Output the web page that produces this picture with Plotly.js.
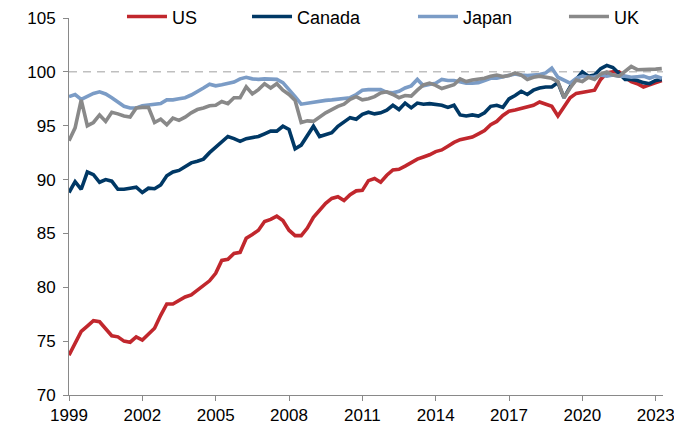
<!DOCTYPE html>
<html>
<head>
<meta charset="utf-8">
<script src="https://cdn.plot.ly/plotly-3.0.1.min.js"></script>
<style>
html,body{margin:0;padding:0;background:#fff;}
#chart{width:674px;height:426px;}
</style>
</head>
<body>
<div id="chart"></div>
<script>
// Quarterly observations, 1999 Q1 to 2023 Q2
const startYear = 1999;
const seriesNames = ["US", "Canada", "Japan", "UK"];

const us = [73.7,74.8,75.9,76.4,76.9,76.8,76.1,75.5,75.4,75.0,74.9,75.4,75.1,75.7,76.2,77.4,
  78.45,78.45,78.8,79.1,79.3,79.7,80.1,80.6,81.3,82.5,82.6,83.15,83.25,84.55,84.9,85.3,
  86.1,86.3,86.6,86.2,85.3,84.8,84.8,85.5,86.5,87.2,87.8,88.25,88.4,88.05,88.6,88.95,
  89.0,89.9,90.1,89.75,90.4,90.9,90.95,91.25,91.55,91.9,92.1,92.3,92.6,92.75,93.1,93.45,
  93.7,93.85,93.95,94.25,94.55,95.1,95.4,95.95,96.35,96.45,96.6,96.7,96.9,97.2,97.0,96.8,
  95.9,96.7,97.6,98.0,98.1,98.2,98.3,99.3,99.9,100.0,100.0,99.5,99.1,98.9,98.6,98.8,
  99.0,99.2];

const canada = [88.8,89.8,89.1,90.7,90.45,89.75,90.0,89.85,89.1,89.1,89.2,89.3,88.8,89.2,89.15,89.5,
  90.35,90.7,90.85,91.2,91.55,91.7,91.9,92.5,93.0,93.55,94.0,93.8,93.55,93.8,93.9,94.0,
  94.25,94.5,94.5,94.95,94.65,92.85,93.2,94.15,94.95,94.0,94.2,94.35,94.95,95.4,95.75,95.6,
  96.05,96.25,96.1,96.2,96.45,96.9,96.5,97.1,96.66,97.1,97.0,97.05,97.0,96.9,96.7,96.9,
  96.0,95.9,96.0,95.9,96.2,96.8,96.9,96.7,97.5,97.8,98.2,97.9,98.3,98.5,98.6,98.6,
  99.0,97.6,98.6,99.3,100.0,99.6,99.7,100.3,100.6,100.4,99.8,99.3,99.3,99.2,99.0,98.9,
  99.2,99.3];

const japan = [97.7,97.9,97.45,97.75,98.0,98.15,97.95,97.6,97.2,96.8,96.65,96.65,96.85,96.9,97.0,97.05,
  97.4,97.4,97.5,97.6,97.85,98.15,98.5,98.85,98.7,98.8,98.95,99.05,99.35,99.5,99.35,99.3,
  99.35,99.35,99.3,99.0,98.4,97.7,97.0,97.1,97.2,97.25,97.35,97.4,97.45,97.55,97.6,97.9,
  98.3,98.35,98.36,98.35,98.1,98.05,98.2,98.5,98.7,99.3,98.7,98.85,98.95,99.3,99.2,99.2,
  99.1,98.95,98.95,99.0,99.2,99.4,99.4,99.55,99.7,99.8,99.7,99.65,99.7,99.75,99.9,100.35,
  99.5,99.2,98.95,99.4,99.6,99.5,99.55,99.7,99.6,99.7,99.6,99.6,99.5,99.55,99.6,99.4,
  99.6,99.4];

const uk = [93.6,94.8,97.4,95.0,95.3,96.0,95.4,96.25,96.1,95.9,95.8,96.65,96.7,96.7,95.3,95.6,
  95.1,95.7,95.5,95.8,96.2,96.5,96.65,96.85,96.9,97.25,97.05,97.6,97.6,98.6,97.95,98.35,
  98.9,98.5,98.9,98.3,97.9,97.35,95.3,95.45,95.4,95.85,96.2,96.5,96.8,97.0,97.45,97.7,
  97.4,97.5,97.7,98.05,98.15,97.9,97.6,97.8,97.75,98.3,98.8,98.95,98.75,98.45,98.65,98.8,
  99.35,99.1,99.25,99.35,99.4,99.6,99.7,99.56,99.65,99.9,99.7,99.3,99.5,99.6,99.5,99.4,
  99.1,97.6,98.5,99.25,99.1,99.5,99.3,99.8,100.0,99.7,99.6,100.0,100.5,100.2,100.2,100.25,
  100.25,100.3];

const tickYears = [1999, 2002, 2005, 2008, 2011, 2014, 2017, 2020, 2023];
const tickLabels = ["1999","2002","2005","2008","2011","2014","2017","2020","2023"];
const referenceLevel = 100;

// quarter positions on the time axis
const quarters = us.map((_, i) => startYear + i / 4);

const colors = ["#C1272D", "#003865", "#7B9CC6", "#898989"];
const values = [us, canada, japan, uk];
const legendIds = ["legend", "legend2", "legend3", "legend4"];
const legendX = [0.0892, 0.2997, 0.5791, 0.8333];

const traces = values.map((v, k) => ({
  x: quarters, y: v, name: seriesNames[k], type: "scatter", mode: "lines",
  line: {color: colors[k], width: 3.6},
  legend: legendIds[k], hoverinfo: "skip"
}));

const font = {family: "Liberation Sans, Arial, sans-serif", size: 17, color: "#000"};
const layout = {
  width: 674, height: 426,
  margin: {l: 69, r: 11, t: 18, b: 31, autoexpand: false},
  paper_bgcolor: "#fff", plot_bgcolor: "#fff",
  font: font,
  showlegend: true,
  xaxis: {
    range: [1999, 2023.3], tickvals: tickYears, ticktext: tickLabels,
    showgrid: false, zeroline: false, showline: true, linecolor: "#898989", linewidth: 1,
    ticks: "outside", ticklen: 5, tickcolor: "#898989", tickfont: font,
    ticklabeloverflow: "allow"
  },
  yaxis: {
    range: [70, 105], dtick: 5, tick0: 70,
    showgrid: false, zeroline: false, showline: true, linecolor: "#898989", linewidth: 1,
    ticks: "outside", ticklen: 5, tickcolor: "#898989", tickfont: font, ticklabelstandoff: 4,
    ticklabeloverflow: "allow"
  },
  shapes: [{
    type: "line", xref: "paper", x0: 0, x1: 1, yref: "y", y0: referenceLevel, y1: referenceLevel,
    line: {color: "#BFBFBF", width: 1.5, dash: "8px,6px"}, layer: "below"
  }]
};
legendIds.forEach((id, k) => {
  layout[id] = {
    x: legendX[k], xanchor: "left", y: 1.003, yanchor: "middle",
    orientation: "h", bgcolor: "rgba(0,0,0,0)", borderwidth: 0,
    font: {family: font.family, size: 18, color: "#000"}, itemwidth: 40
  };
});

Plotly.newPlot("chart", traces, layout, {displayModeBar: false, staticPlot: true});
</script>
</body>
</html>
